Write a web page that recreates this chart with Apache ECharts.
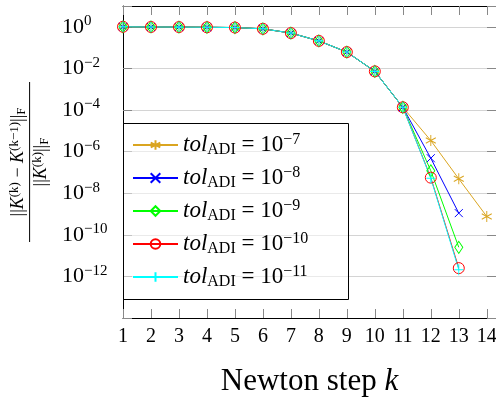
<!DOCTYPE html>
<html>
<head>
<meta charset="utf-8">
<script src="https://cdn.jsdelivr.net/npm/echarts@6/dist/echarts.min.js"></script>
<style>
html, body { margin: 0; padding: 0; background: #fff; }
#chart { width: 496px; height: 400px; }
</style>
</head>
<body>
<div id="chart"></div>
<script>
// Newton steps
var steps = [1, 2, 3, 4, 5, 6, 7, 8, 9, 10, 11, 12, 13, 14];
// relative change ||K(k)-K(k-1)||/||K(k)|| for each ADI tolerance
var tol7 = [1, 0.98, 0.97, 0.95, 0.92, 0.8, 0.5, 0.21, 0.061, 7.2e-3, 1.35e-4, 3.4e-6, 4.9e-8, 7.6e-10];
var tol8 = [1, 0.98, 0.97, 0.95, 0.92, 0.8, 0.5, 0.21, 0.061, 7.2e-3, 1.35e-4, 4.8e-7, 1.1e-9];
var tol9 = [1, 0.98, 0.97, 0.95, 0.92, 0.8, 0.5, 0.21, 0.061, 7.2e-3, 1.35e-4, 1.2e-7, 2.5e-11];
var tol10 = [1, 0.98, 0.97, 0.95, 0.92, 0.8, 0.5, 0.21, 0.061, 7.2e-3, 1.35e-4, 5.6e-8, 2.5e-12];
var tol11 = [1, 0.98, 0.97, 0.95, 0.92, 0.8, 0.5, 0.21, 0.061, 7.2e-3, 1.35e-4, 5.2e-8, 2.1e-12];
var tolExp = ["−7", "−8", "−9", "−10", "−11"];
// Newton stopping tolerance (dashed line)
var stopTol = 1e-8;

var serif = "Liberation Serif";

function toPairs(vals) {
  return vals.map(function (v, i) {
    return [steps[i], v];
  });
}

var styles = [
  { color: "#DAA520", symbol: "path://M0,-1L0,1M-0.866,-0.5L0.866,0.5M-0.866,0.5L0.866,-0.5", size: [10, 11] },
  { color: "#0000FF", symbol: "path://M-1,-1L1,1M-1,1L1,-1", size: [8, 8] },
  { color: "#00FF00", symbol: "diamond", size: [8, 12] },
  { color: "#FF0000", symbol: "circle", size: 11 },
  { color: "#00FFFF", symbol: "path://M0,-1L0,1M-1,0L1,0", size: [9, 11] }
];
var allData = [tol7, tol8, tol9, tol10, tol11];
var names = ["tol7", "tol8", "tol9", "tol10", "tol11"];

var chart = echarts.init(document.getElementById("chart"));

var series = allData.map(function (vals, i) {
  var s = styles[i];
  var item = {
    name: names[i],
    type: "line",
    data: toPairs(vals),
    symbol: s.symbol,
    symbolSize: s.size,
    showAllSymbol: true,
    lineStyle: { color: s.color, width: 1 },
    itemStyle: { color: "rgba(0,0,0,0)", borderColor: s.color, borderWidth: 1 },
    emphasis: { disabled: true },
    z: 2
  };
  if (i === 0) {
    item.markLine = {
      silent: true,
      symbol: ["none", "none"],
      label: { show: false },
      lineStyle: { color: "#000", type: [9, 5], width: 2.5 },
      data: [{ yAxis: stopTol }]
    };
  }
  return item;
});

chart.setOption({
  animation: false,
  grid: {
    left: 123,
    right: 0,
    top: 6,
    bottom: 82,
    containLabel: false,
    outerBoundsMode: "none"
  },
  // legend frame: half transparent white box, lines behind it show through grey
  graphic: [
    {
      type: "rect",
      x: 123,
      y: 123,
      z: 5,
      silent: true,
      shape: { x: 0.5, y: 0.5, width: 225, height: 176 },
      style: { fill: "rgba(255,255,255,0.5)", stroke: "#000", lineWidth: 1 }
    }
  ],
  legend: {
    orient: "vertical",
    left: 123,
    top: 123,
    z: 6,
    padding: [9, 36, 8, 9],
    itemGap: 7,
    itemWidth: 45,
    itemHeight: 12,
    borderWidth: 0,
    backgroundColor: "rgba(0,0,0,0)",
    data: names,
    formatter: function (name) {
      var i = names.indexOf(name);
      return "{it|tol}{sub|ADI}{n| = 10}{sup|" + tolExp[i] + "}";
    },
    textStyle: {
      fontFamily: serif,
      color: "#000",
      backgroundColor: "rgba(0,0,0,0)",
      rich: {
        it: { fontFamily: serif, fontStyle: "italic", fontSize: 23, lineHeight: 26, color: "#000" },
        n: { fontFamily: serif, fontSize: 23, lineHeight: 26, color: "#000" },
        sub: { fontFamily: serif, fontSize: 16, lineHeight: 16, verticalAlign: "bottom", color: "#000" },
        sup: { fontFamily: serif, fontSize: 16, lineHeight: 18, verticalAlign: "top", color: "#000" }
      }
    }
  },
  xAxis: [
    {
      type: "value",
      min: 1,
      max: 14.33,
      interval: 1,
      name: "{a|Newton step }{b|k}",
      nameLocation: "middle",
      nameGap: 48,
      nameTextStyle: {
        rich: {
          a: { fontFamily: serif, fontSize: 31, color: "#000" },
          b: { fontFamily: serif, fontSize: 31, fontStyle: "italic", color: "#000" }
        }
      },
      axisLine: { show: true, lineStyle: { color: "#000", width: 1 } },
      axisTick: { show: true, inside: true, length: 9, lineStyle: { color: "#888" } },
      axisLabel: {
        margin: 9,
        fontFamily: serif,
        fontSize: 20,
        color: "#000",
        showMaxLabel: false,
        formatter: function (v) {
          return v % 1 === 0 ? String(v) : "";
        }
      },
      splitLine: { show: false }
    },
    {
      type: "value",
      position: "top",
      min: 1,
      max: 14.33,
      interval: 1,
      axisLine: { show: true, lineStyle: { color: "#000", width: 1 } },
      axisTick: { show: true, inside: true, length: 9, lineStyle: { color: "#888" } },
      axisLabel: { show: false },
      splitLine: { show: false }
    }
  ],
  yAxis: [
    {
      type: "log",
      logBase: 10,
      min: 1e-14,
      max: 10,
      interval: 2,
      name: "{n|||}{it|K}{sup|(k)}{n| − }{it|K}{sup|(k−1)}{n|||}{sub|F}\n{bar| }\n{n|||}{it|K}{sup|(k)}{n|||}{sub|F}",
      nameLocation: "middle",
      nameRotate: 90,
      nameGap: 70,
      nameTextStyle: {
        rich: {
          n: { fontFamily: serif, fontSize: 18, lineHeight: 20, color: "#000", align: "center" },
          it: { fontFamily: serif, fontSize: 18, fontStyle: "italic", lineHeight: 20, color: "#000", align: "center" },
          sup: { fontFamily: serif, fontSize: 13, lineHeight: 12, verticalAlign: "top", color: "#000", align: "center" },
          sub: { fontFamily: serif, fontSize: 13, lineHeight: 12, verticalAlign: "bottom", color: "#000", align: "center" },
          bar: { width: 160, height: 1, lineHeight: 3, backgroundColor: "#000", fontSize: 1, align: "center" }
        }
      },
      axisLine: { show: true, lineStyle: { color: "#000", width: 1 } },
      axisTick: { show: true, inside: true, length: 9, lineStyle: { color: "#888" } },
      axisLabel: {
        align: "left",
        margin: 61,
        formatter: function (v) {
          var e = Math.round(Math.log10(v));
          if (e % 2 !== 0 || e < -12 || e > 0) return "";
          return "{b|10}{s|" + (e < 0 ? "−" + (-e) : String(e)) + "}";
        },
        rich: {
          b: { fontFamily: serif, fontSize: 22, lineHeight: 26, color: "#000" },
          s: { fontFamily: serif, fontSize: 15, lineHeight: 18, verticalAlign: "top", color: "#000" }
        }
      },
      splitLine: { show: true, lineStyle: { color: "#d4d4d4", width: 1 } }
    },
    {
      type: "log",
      logBase: 10,
      position: "right",
      min: 1e-14,
      max: 10,
      interval: 2,
      axisLine: { show: true, lineStyle: { color: "#000", width: 1 } },
      axisTick: { show: true, inside: true, length: 9, lineStyle: { color: "#888" } },
      axisLabel: { show: false },
      splitLine: { show: false }
    }
  ],
  series: series
});
</script>
</body>
</html>
